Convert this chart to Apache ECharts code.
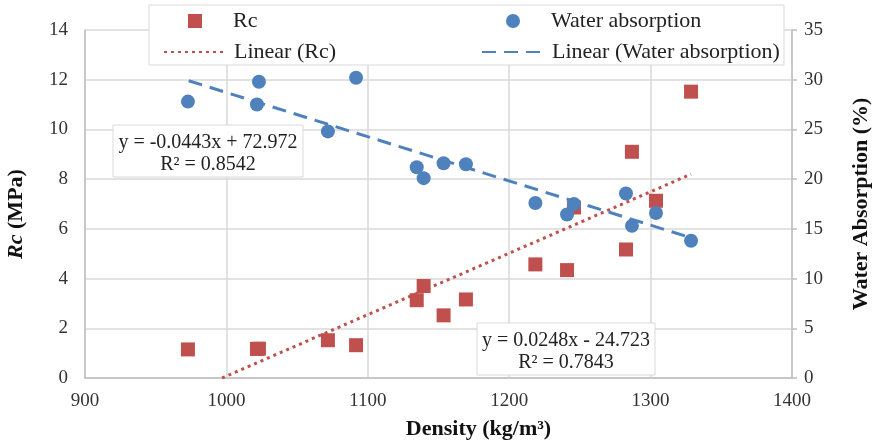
<!DOCTYPE html>
<html>
<head>
<meta charset="utf-8">
<script src="https://cdn.jsdelivr.net/npm/echarts@6/dist/echarts.min.js"></script>
<style>
  html, body { margin: 0; padding: 0; background: #fff; }
  #chart { width: 876px; height: 443px; }
</style>
</head>
<body>
<div id="chart"></div>
<script>
// densities shared by both measured series (kg/m3)
var density = [972.8, 1021.6, 1023, 1071.8, 1091.7, 1134.6, 1139.5, 1153.6, 1169.4, 1218.5, 1240.9, 1245.8, 1282.6, 1286.8, 1303.8, 1328.6];
var rcValues = [1.15, 1.17, 1.18, 1.52, 1.32, 3.13, 3.70, 2.52, 3.16, 4.57, 4.34, 6.86, 5.17, 9.10, 7.13, 11.52];
var waterValues = [27.8, 27.5, 29.8, 24.8, 30.2, 21.2, 20.1, 21.6, 21.5, 17.6, 16.45, 17.5, 18.55, 15.3, 16.6, 13.8];
// trend line ends as drawn in the picture
var rcTrend = [[996.9, 0], [1328.6, 8.2]];
var waterTrend = [[973.3, 29.9], [1328.6, 14.1]];
var xTicks = [900, 1400, 100];
var rcTicks = [0, 14, 2];
var waterTicks = [0, 35, 5];

var font = 'Liberation Serif';
var red = '#C0504D';
var blue = '#4F81BD';

function pairs(xs, ys) {
  var out = [];
  for (var i = 0; i < xs.length; i++) out.push([xs[i], ys[i]]);
  return out;
}

function legendAt(name, left, top, w, pad, isLine) {
  var lg = {
    data: [name],
    left: left,
    top: top,
    padding: 0,
    itemWidth: w,
    itemHeight: 14,
    selectedMode: false,
    textStyle: { fontFamily: font, fontSize: 22, color: '#222', padding: [0, 0, 0, pad] }
  };
  if (isLine) lg.itemStyle = { opacity: 0 };
  return lg;
}

var chart = echarts.init(document.getElementById('chart'));
chart.setOption({
  animation: false,
  grid: { left: 85, right: 84, top: 30, bottom: 65, outerBoundsMode: 'none', containLabel: false },
  legend: [
    legendAt('Rc', 188, 10, 14, 26),
    legendAt('Water absorption', 506, 10, 14, 26),
    legendAt('Linear (Rc)', 163, 41, 61, 4, true),
    legendAt('Linear (Water absorption)', 481, 41, 64, 1, true)
  ],
  xAxis: {
    type: 'value',
    min: xTicks[0], max: xTicks[1], interval: xTicks[2],
    name: 'Density (kg/m³)',
    nameLocation: 'middle',
    nameGap: 40,
    nameTextStyle: { fontFamily: font, fontSize: 22, fontWeight: 'bold', color: '#111', padding: [0, 0, 0, 80] },
    axisLine: { lineStyle: { color: '#bfbfbf', width: 1.5 } },
    axisTick: { show: false },
    axisLabel: { fontFamily: font, fontSize: 19, color: '#333', margin: 14, formatter: function (v) { return String(v); } },
    splitLine: { lineStyle: { color: '#d9d9d9', width: 1.5 } }
  },
  yAxis: [
    {
      type: 'value',
      min: rcTicks[0], max: rcTicks[1], interval: rcTicks[2],
      name: '{i|Rc} (MPa)',
      nameLocation: 'middle',
      nameRotate: 90,
      nameGap: 58,
      nameTextStyle: {
        fontFamily: font, fontSize: 22, fontWeight: 'bold', color: '#111', padding: [0, 20, 0, 0],
        rich: { i: { fontFamily: font, fontSize: 22, fontWeight: 'bold', fontStyle: 'italic', color: '#111' } }
      },
      axisLine: { show: true, lineStyle: { color: '#bfbfbf', width: 1.5 } },
      axisTick: { show: false },
      axisLabel: { fontFamily: font, fontSize: 19, color: '#333', margin: 17 },
      splitLine: { lineStyle: { color: '#d9d9d9', width: 1.5 } }
    },
    {
      type: 'value',
      position: 'right',
      min: waterTicks[0], max: waterTicks[1], interval: waterTicks[2],
      name: 'Water Absorption (%)',
      nameLocation: 'middle',
      nameRotate: 90,
      nameGap: 58,
      nameTextStyle: { fontFamily: font, fontSize: 22, fontWeight: 'bold', color: '#111' },
      axisLine: { show: true, lineStyle: { color: '#bfbfbf', width: 1.5 } },
      axisTick: { show: true, length: 5, lineStyle: { color: '#bfbfbf', width: 1.5 } },
      axisLabel: { fontFamily: font, fontSize: 19, color: '#333', margin: 12 },
      splitLine: { show: false }
    }
  ],
  graphic: [
    { type: 'rect', z: 3, shape: { x: 149, y: 5, width: 635, height: 60 },
      style: { fill: '#fff', stroke: '#d9d9d9', lineWidth: 1 } },
    { type: 'rect', z: 3, shape: { x: 113, y: 125, width: 190, height: 52 },
      style: { fill: '#fff', stroke: '#d9d9d9', lineWidth: 1 } },
    { type: 'text', z: 4, x: 208, y: 132,
      style: { text: 'y = -0.0443x + 72.972\nR² = 0.8542', fontFamily: font, fontSize: 20, lineHeight: 22, fill: '#222', align: 'center' } },
    { type: 'rect', z: 3, shape: { x: 477, y: 323, width: 178, height: 52 },
      style: { fill: '#fff', stroke: '#d9d9d9', lineWidth: 1 } },
    { type: 'text', z: 4, x: 566, y: 330,
      style: { text: 'y = 0.0248x - 24.723\nR² = 0.7843', fontFamily: font, fontSize: 20, lineHeight: 22, fill: '#222', align: 'center' } }
  ],
  series: [
    {
      name: 'Rc', type: 'scatter', yAxisIndex: 0,
      symbol: 'rect', symbolSize: 14,
      itemStyle: { color: red, opacity: 1 },
      data: pairs(density, rcValues)
    },
    {
      name: 'Water absorption', type: 'scatter', yAxisIndex: 1,
      symbol: 'circle', symbolSize: 14,
      itemStyle: { color: blue, opacity: 1 },
      data: pairs(density, waterValues)
    },
    {
      name: 'Linear (Rc)', type: 'line', yAxisIndex: 0,
      symbol: 'none', showSymbol: false,
      lineStyle: { color: red, width: 3, type: [3, 4] },
      itemStyle: { color: red },
      data: rcTrend
    },
    {
      name: 'Linear (Water absorption)', type: 'line', yAxisIndex: 1,
      symbol: 'none', showSymbol: false,
      lineStyle: { color: blue, width: 3, type: [14, 8] },
      itemStyle: { color: blue },
      data: waterTrend
    }
  ]
});
</script>
</body>
</html>
